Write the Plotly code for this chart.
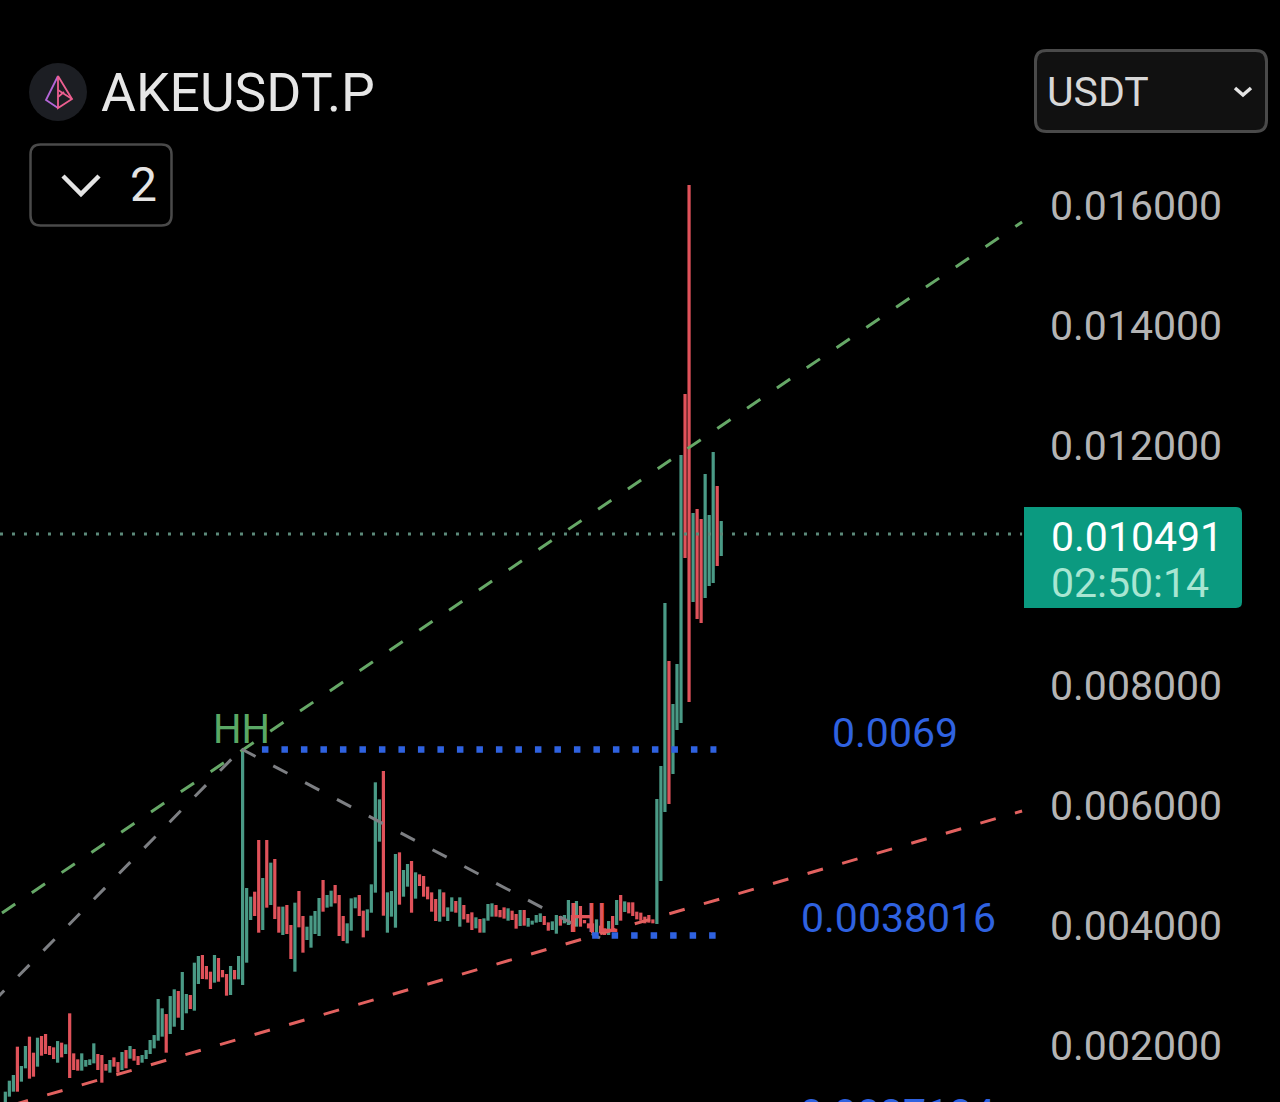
import numpy as np
import plotly.graph_objects as go

# prices, in millionths of USDT
bar_high = [1222, 1405, 1500, 1972, 1650, 1983, 2139, 1872, 2122, 2150, 2183, 1983, 1961, 2066, 2039, 2011, 2528, 1861,
            1761, 1861, 1750, 1761, 2028, 1850, 1833, 1683, 1750, 1794, 1716, 1883, 1916, 1983, 1933, 1816, 1833, 1916,
            2083, 2166, 2766, 2611, 2516, 2816, 2928, 2900, 3217, 2850, 2833, 3372, 3483, 3500, 3317, 3222, 3500, 3450,
            3250, 3183, 3317, 3250, 3483, 6933, 4617, 4472, 4555, 5417, 4783, 5417, 5039, 5100, 4306, 4306, 4333, 4000,
            4372, 4567, 4150, 3972, 4155, 4233, 4450, 4750, 4500, 4572, 4667, 4500,
            4150, 4028, 4444, 4461, 4500, 4239, 4261, 4678, 6378, 6094, 6567, 4544, 4566, 5183, 5211, 4917, 5017, 5067,
            4878, 4844, 4817, 4639, 4544, 4433, 4594, 4544, 4294, 4461, 4400, 4461, 4333, 4183, 4211, 4128, 4100, 4111,
            4350, 4361, 4333, 4250, 4294, 4278, 4239, 4183, 4250, 4250, 4117, 4072, 4167, 4194, 4150, 4044, 4061, 4167,
            4150, 4167, 4417, 4167, 4400, 4317, 4083, 4028, 4028, 4094, 3989, 3944, 4067, 4150, 4417, 4500, 4394, 4378,
            4378, 4222, 4206, 4139, 4167, 4094,
            6100, 6650, 9367, 8400, 7683, 8350, 11833, 12850, 16333, 10867, 10933, 10767, 11517, 10833, 11883, 11317, 10733]
bar_low = [1010, 1139, 1222, 1222, 1389, 1611, 1439, 1472, 1639, 1822, 1850, 1833, 1766, 1705, 1794, 1850, 1450, 1583,
           1572, 1572, 1639, 1666, 1694, 1583, 1372, 1572, 1539, 1639, 1539, 1583, 1611, 1772, 1739, 1666, 1705, 1766,
           1850, 1944, 2072, 2139, 1872, 2183, 2305, 2455, 2250, 2528, 2600, 2572, 3017, 3100, 3094, 2933, 3039, 3055,
           3128, 2822, 2833, 3094, 3094, 3000, 3372, 4083, 4150, 3872, 3917, 4289, 4333, 4100, 3872, 3833, 3850, 3433,
           3222, 3961, 3539, 3750, 3622, 3850, 3817, 4222, 4289, 4306, 4361, 3817,
           3733, 3694, 3905, 4278, 4150, 3794, 3905, 4205, 4539, 5389, 4155, 3872, 4139, 3955, 4339, 4472, 4639, 4205,
           4439, 4650, 4472, 4428, 4222, 4067, 4056, 4139, 4067, 4222, 4205, 3972, 4094, 4039, 3917, 3944, 3872, 3872,
           4072, 4139, 4139, 4128, 4106, 4072, 4083, 3939, 3983, 3989, 3972, 4006, 4039, 4050, 4000, 3905, 3917, 3855,
           3989, 4028, 4000, 3883, 3972, 3972, 4028, 3944, 3861, 3833, 3861, 3833, 3833, 3917, 4000, 4072, 4217, 4194,
           4150, 4094, 4072, 4028, 4039, 4028,
           4017, 4733, 5883, 6017, 6517, 7250, 7367, 10117, 7717, 9383, 9100, 9033, 9450, 9650, 9700, 9983, 10150]
bar_up = [1, 1, 1, 0, 1, 1, 0, 0, 1, 0, 0, 0, 0, 1, 0, 1, 0, 0, 0, 1,
          1, 1, 1, 0, 0, 0, 1, 0, 0, 1, 0, 1, 0, 0, 1, 1, 1, 1, 1, 1,
          0, 1, 1, 0, 1, 1, 0, 1, 1, 0, 0, 0, 1, 0, 0, 0, 1, 0, 1, 1,
          1, 1, 0, 0, 1, 0, 1, 0, 0, 1, 0, 0, 1, 0, 0, 1, 1, 1, 1, 0,
          1, 1, 0, 0,
          0, 1, 1, 1, 0, 0, 1, 1, 1, 1, 0, 1, 1, 1, 0, 1, 1, 0, 1, 0,
          0, 0, 0, 0, 1, 0, 1, 1, 0, 1, 0, 0, 0, 1, 0, 1, 1, 1, 0, 0,
          0, 1, 0, 0, 1, 0, 1, 1, 1, 1, 0, 0, 1, 1, 0, 1, 1, 0, 1, 0,
          0, 0, 0, 1, 0, 0, 1, 0, 1, 0, 1, 0, 0, 0, 0, 0, 0, 0,
          1, 1, 1, 0, 1, 1, 1, 0, 0, 1, 0, 0, 1, 1, 1, 0, 1]

y_ticks = [0.002, 0.004, 0.006, 0.008, 0.010, 0.012, 0.014, 0.016]
y_labels = ["0.002000", "0.004000", "0.006000", "0.008000", "", "0.012000", "0.014000", "0.016000"]

last_price = 0.010491
level_top = 0.0069
level_bottom = 0.0038016

# trend lines, (bar index, price)
green_x, green_y = [-0.83, 252.8], [0.004175, 0.015692]
red_x, red_y = [1.81, 252.8], [0.000975, 0.005875]
gray_left_x, gray_left_y = [-3.07, 58.7], [0.002692, 0.006908]
gray_right_x, gray_right_y = [58.7, 147.86], [0.006908, 0.003758]

W, H = 1280, 1102
GREEN, RED = "#4a9a86", "#e0525a"
BLUE = "#2f62e0"

high = np.array(bar_high) / 1e6 - 25e-6  # reading was against the tick text, which sits 1.5px low
low = np.array(bar_low) / 1e6 - 25e-6
up = np.array(bar_up) == 1
idx = np.arange(len(high))


def px(x):
    return x / W


def py(y):
    return 1 - y / H


def rrect(x0, y0, x1, y1, r, r_left=None):
    rl = r if r_left is None else r_left
    pts = [("M", x0 + rl, y0), ("L", x1 - r, y0), ("Q", x1, y0, x1, y0 + r), ("L", x1, y1 - r), ("Q", x1, y1, x1 - r, y1),
           ("L", x0 + rl, y1), ("Q", x0, y1, x0, y1 - rl), ("L", x0, y0 + rl), ("Q", x0, y0, x0 + rl, y0)]
    out = ""
    for p in pts:
        out += p[0] + " " + " ".join(f"{px(a):.5f} {py(b):.5f}" for a, b in zip(p[1::2], p[2::2])) + " "
    return out + "Z"


def poly(points):
    return "M " + " L ".join(f"{px(a):.5f} {py(b):.5f}" for a, b in points)


fig = go.Figure()
for mask, col in [(up, GREEN), (~up, RED)]:
    fig.add_trace(go.Bar(x=idx[mask], y=(high - low)[mask], base=low[mask], width=0.8,
                         marker=dict(color=col, line=dict(width=0))))


def add_line(x, y, color, width, dash):
    fig.add_trace(go.Scatter(x=x, y=y, mode="lines", line=dict(color=color, width=width, dash=dash)))


add_line([-1.33, 252.8], [last_price, last_price], "#5c8a7a", 3, "3px,9px")
add_line(green_x, green_y, "#66a867", 3, "16px,20px")
add_line(red_x, red_y, "#e2615f", 3, "16px,20px")
add_line(gray_left_x, gray_left_y, "#7d7f83", 3, "16px,20px")
add_line(gray_right_x, gray_right_y, "#7d7f83", 3, "16px,20px")
add_line([63.8, 176.8], [level_top, level_top], BLUE, 6.5, "6.5px,13px")
add_line([145.9, 176.8], [level_bottom, level_bottom], BLUE, 6.5, "6.5px,13px")

shapes = [
    dict(type="path", path=rrect(1035.5, 50.5, 1266.5, 131.5, 11), fillcolor="#111111", line=dict(color="#4a4a4a", width=3)),
    dict(type="path", path=rrect(30.5, 144.5, 171.5, 225.5, 10), fillcolor="rgba(0,0,0,0)", line=dict(color="#4a4a4a", width=2.5)),
    dict(type="path", path=poly([(63, 176), (81, 194), (99, 176)]), line=dict(color="#e4e4e4", width=4.5)),
    dict(type="path", path=poly([(1235, 88), (1243, 95), (1251, 88)]), line=dict(color="#e4e4e4", width=3.5)),
    dict(type="path", path=rrect(1024, 507, 1242, 608, 6, r_left=0.01), fillcolor="#0b9a80", line=dict(width=0)),
    dict(type="circle", x0=px(29), x1=px(87), y0=py(121), y1=py(63), fillcolor="#1c1e23", line=dict(width=0)),
    dict(type="path", path=poly([(58, 76), (46, 100), (58, 108)]), line=dict(color="#b566d8", width=1.8)),
    dict(type="path", path=poly([(58, 76), (72, 99), (58, 108), (58, 76)]), line=dict(color="#ec5f90", width=1.8)),
    dict(type="path", path=poly([(58, 90), (72, 99)]), line=dict(color="#ec5f90", width=1.8)),
    dict(type="path", path=poly([(58, 97), (64, 92)]), line=dict(color="#ec5f90", width=1.8)),
]
for s in shapes:
    s["xref"] = "paper"
    s["yref"] = "paper"

texts = [
    ("AKEUSDT.P", 100, 93, 53.5, "#e6e6e6", "left"),
    ("2", 143, 185, 48, "#e4e4e4", "center"),
    ("USDT", 1046, 92, 41, "#d8d8d8", "left"),
    ("0.010491", 1050, 537, 41, "#ffffff", "left"),
    ("02:50:14", 1050, 583, 41, "#a8e6d2", "left"),
    ("HH", 241, 729, 40, "#5aa865", "center"),
    ("HL", 593, 918, 40, "#e0555a", "center"),
    ("0.0069", 895, 733, 41, BLUE, "center"),
    ("0.0038016", 898, 918, 41, BLUE, "center"),
    ("0.0037184", 897, 1114, 41, BLUE, "center"),
]
annotations = [dict(text=t, xref="paper", yref="paper", x=px(x), y=py(y), xanchor=a, yanchor="middle", showarrow=False,
                    borderpad=0, font=dict(family="Roboto", size=s, color=c, weight=400))
               for t, x, y, s, c, a in texts]

fig.update_layout(
    width=W, height=H, margin=dict(l=0, r=0, t=0, b=0), paper_bgcolor="#000000", plot_bgcolor="#000000",
    showlegend=False, barmode="overlay", shapes=shapes, annotations=annotations,
    xaxis=dict(domain=[0, 1045 / W], range=[-1.325, 258.5], visible=False),
    yaxis=dict(side="right", range=[0.001025, 0.0193917], tickvals=y_ticks, ticktext=y_labels, ticklen=0,
               ticklabelstandoff=4, ticklabelshift=2, showgrid=False, zeroline=False, showline=False,
               tickfont=dict(family="Roboto", size=41, color="#b4b4b4", weight=400)),
)

fig.write_html("out.html", config={"displayModeBar": False}, post_script="document.body.style.margin='0';")
